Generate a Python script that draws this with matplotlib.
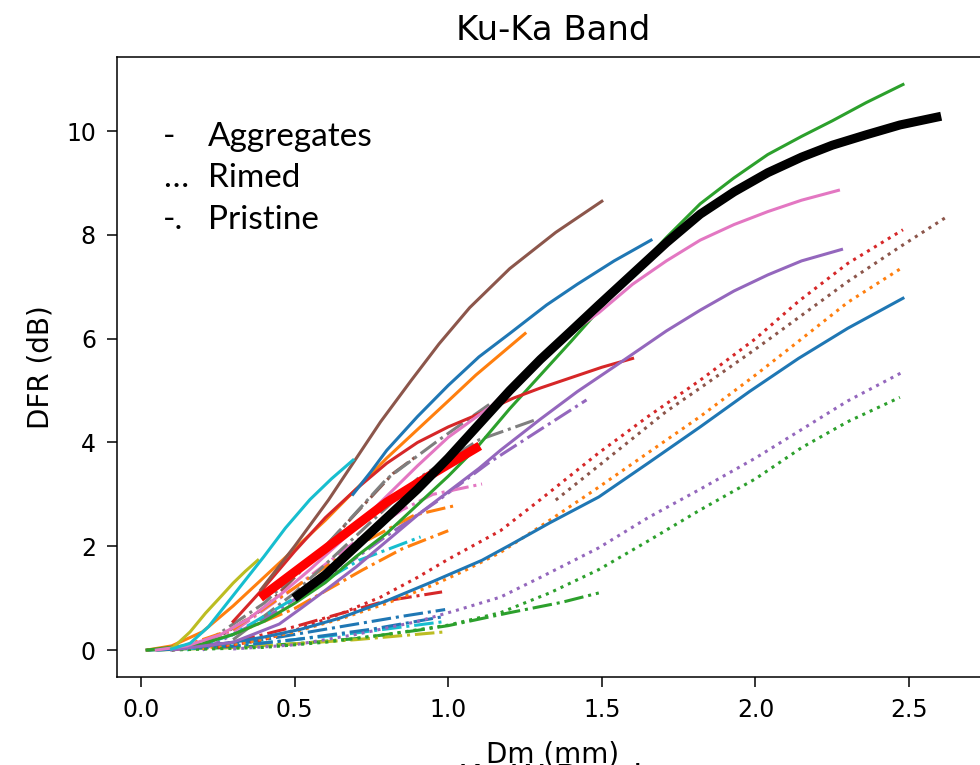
import matplotlib
matplotlib.use('Agg')
import matplotlib.pyplot as plt

# Aggregates (solid)
agg_brown_x = [0.39, 0.5, 0.61, 0.69, 0.78, 0.88, 0.97, 1.07, 1.2, 1.35, 1.5]
agg_brown_y = [1.16, 2.0, 2.89, 3.6, 4.4, 5.2, 5.9, 6.6, 7.35, 8.05, 8.65]
agg_cyan_x = [0.1, 0.16, 0.22, 0.3, 0.4, 0.47, 0.55, 0.62, 0.69]
agg_cyan_y = [0.02, 0.13, 0.45, 1.05, 1.8, 2.35, 2.9, 3.3, 3.66]
agg_olive_x = [0.1, 0.12, 0.16, 0.21, 0.26, 0.3, 0.34, 0.38]
agg_olive_y = [0.03, 0.13, 0.35, 0.71, 1.03, 1.29, 1.52, 1.73]
agg_blue1_x = [0.69, 0.75, 0.8, 0.9, 1.0, 1.1, 1.2, 1.32, 1.42, 1.54, 1.66]
agg_blue1_y = [3.0, 3.45, 3.85, 4.5, 5.1, 5.65, 6.1, 6.65, 7.05, 7.5, 7.9]
agg_orange_x = [0.02, 0.1, 0.2, 0.3, 0.4, 0.5, 0.6, 0.7, 0.8, 0.9, 1.0, 1.09, 1.17, 1.25]
agg_orange_y = [0.0, 0.08, 0.35, 0.85, 1.4, 1.95, 2.5, 3.1, 3.7, 4.25, 4.8, 5.3, 5.7, 6.1]
agg_red_x = [0.3, 0.4, 0.5, 0.6, 0.7, 0.8, 0.9, 1.0, 1.1, 1.21, 1.3, 1.4, 1.5, 1.6]
agg_red_y = [0.55, 1.2, 1.9, 2.55, 3.1, 3.6, 4.0, 4.3, 4.55, 4.85, 5.05, 5.25, 5.45, 5.62]
agg_green_x = [0.02, 0.2, 0.3, 0.4, 0.5, 0.6, 0.7, 0.8, 0.9, 1.0, 1.1, 1.2, 1.3, 1.4, 1.49,
               1.6, 1.71, 1.82, 1.93, 2.04, 2.15, 2.25, 2.36, 2.48]
agg_green_y = [0.0, 0.12, 0.3, 0.55, 0.9, 1.3, 1.8, 2.25, 2.8, 3.35, 3.95, 4.65, 5.3, 5.95, 6.55,
               7.25, 7.95, 8.6, 9.1, 9.55, 9.9, 10.2, 10.55, 10.9]
agg_pink_x = [0.05, 0.15, 0.26, 0.35, 0.45, 0.55, 0.67, 0.78, 0.9, 1.0, 1.14, 1.25, 1.35, 1.49,
              1.6, 1.71, 1.82, 1.93, 2.04, 2.15, 2.27]
agg_pink_y = [0.0, 0.08, 0.3, 0.6, 1.05, 1.55, 2.2, 2.85, 3.55, 4.1, 4.7, 5.35, 5.9, 6.5,
              7.05, 7.5, 7.9, 8.2, 8.45, 8.67, 8.86]
agg_purple_x = [0.1, 0.3, 0.45, 0.52, 0.6, 0.7, 0.8, 0.9, 1.0, 1.1, 1.17, 1.3, 1.42, 1.55,
                1.71, 1.82, 1.93, 2.04, 2.15, 2.28]
agg_purple_y = [0.0, 0.15, 0.5, 0.8, 1.15, 1.6, 2.1, 2.6, 3.05, 3.5, 3.85, 4.45, 4.98, 5.5,
                6.15, 6.55, 6.92, 7.23, 7.5, 7.72]
agg_blue2_x = [0.02, 0.2, 0.3, 0.4, 0.52, 0.65, 0.8, 0.95, 1.11, 1.2, 1.33, 1.49, 1.65, 1.82,
               1.98, 2.14, 2.3, 2.48]
agg_blue2_y = [0.0, 0.07, 0.15, 0.25, 0.4, 0.62, 0.95, 1.32, 1.73, 2.02, 2.45, 2.95, 3.6, 4.3,
               4.98, 5.62, 6.2, 6.78]

# Rimed (dotted)
rim_red_x = [0.25, 0.4, 0.52, 0.65, 0.78, 0.9, 1.0, 1.17, 1.3, 1.49, 1.65, 1.82, 2.0, 2.14, 2.3, 2.48]
rim_red_y = [0.05, 0.2, 0.42, 0.7, 1.02, 1.4, 1.75, 2.3, 2.9, 3.8, 4.5, 5.2, 6.0, 6.72, 7.45, 8.1]
rim_brown_x = [1.35, 1.5, 1.71, 1.82, 2.0, 2.15, 2.3, 2.47, 2.62]
rim_brown_y = [2.89, 3.6, 4.6, 5.05, 5.8, 6.45, 7.1, 7.77, 8.34]
rim_orange_x = [0.2, 0.35, 0.5, 0.65, 0.8, 0.95, 1.05, 1.17, 1.33, 1.49, 1.65, 1.82, 2.0, 2.14, 2.3, 2.48]
rim_orange_y = [0.03, 0.15, 0.35, 0.6, 0.9, 1.25, 1.52, 1.88, 2.5, 3.14, 3.8, 4.5, 5.3, 5.95, 6.7, 7.38]
rim_purple_x = [0.3, 0.5, 0.7, 0.9, 1.03, 1.17, 1.3, 1.49, 1.65, 1.82, 2.0, 2.15, 2.3, 2.48]
rim_purple_y = [0.02, 0.1, 0.3, 0.55, 0.77, 1.02, 1.4, 1.97, 2.55, 3.1, 3.7, 4.25, 4.8, 5.36]
rim_green_x = [0.1, 0.4, 0.6, 0.8, 1.0, 1.17, 1.33, 1.49, 1.65, 1.82, 2.0, 2.15, 2.3, 2.47]
rim_green_y = [0.0, 0.05, 0.15, 0.3, 0.48, 0.72, 1.1, 1.55, 2.1, 2.7, 3.3, 3.9, 4.4, 4.87]

# Pristine (dash-dot)
pri_blue1_x = [0.02, 0.3, 0.5, 0.7, 0.85, 0.99]
pri_blue1_y = [0.0, 0.1, 0.3, 0.5, 0.65, 0.78]
pri_blue2_x = [0.05, 0.3, 0.5, 0.75, 0.99]
pri_blue2_y = [0.0, 0.07, 0.2, 0.4, 0.65]
pri_orange1_x = [0.1, 0.3, 0.5, 0.72, 0.85, 1.0]
pri_orange1_y = [0.0, 0.3, 0.8, 1.54, 1.95, 2.3]
pri_orange2_x = [0.1, 0.3, 0.5, 0.7, 0.89, 1.02]
pri_orange2_y = [0.0, 0.4, 1.2, 2.0, 2.6, 2.78]
pri_green_x = [0.02, 0.3, 0.5, 0.7, 0.9, 1.0, 1.2, 1.37, 1.49]
pri_green_y = [0.0, 0.05, 0.12, 0.22, 0.38, 0.47, 0.72, 0.92, 1.1]
pri_red_x = [0.1, 0.3, 0.5, 0.63, 0.8, 0.98]
pri_red_y = [0.0, 0.15, 0.45, 0.67, 0.95, 1.12]
pri_purple_x = [0.2, 0.4, 0.6, 0.8, 0.96, 1.13, 1.3, 1.45]
pri_purple_y = [0.0, 0.6, 1.35, 2.2, 2.85, 3.6, 4.25, 4.82]
pri_brown_x = [0.2, 0.4, 0.6, 0.82, 0.9]
pri_brown_y = [0.05, 0.8, 2.0, 3.4, 3.75]
pri_pink_x = [0.1, 0.3, 0.5, 0.7, 0.85, 0.95, 1.11]
pri_pink_y = [0.0, 0.35, 1.2, 2.1, 2.7, 3.0, 3.2]
pri_gray1_x = [0.2, 0.4, 0.6, 0.8, 0.97, 1.14]
pri_gray1_y = [0.1, 0.9, 2.0, 3.3, 4.05, 4.76]
pri_gray2_x = [0.3, 0.5, 0.7, 0.9, 1.1, 1.29]
pri_gray2_y = [0.2, 1.1, 2.2, 3.3, 4.05, 4.45]
pri_olive_x = [0.05, 0.3, 0.5, 0.7, 0.99]
pri_olive_y = [0.0, 0.05, 0.12, 0.2, 0.35]
pri_cyan1_x = [0.05, 0.3, 0.5, 0.7, 0.99]
pri_cyan1_y = [0.0, 0.08, 0.2, 0.33, 0.55]
pri_cyan2_x = [0.15, 0.3, 0.5, 0.71, 0.91]
pri_cyan2_y = [0.0, 0.3, 1.0, 1.73, 2.18]

# reference curves
fit_red_x = [0.40, 0.6, 0.8, 0.95, 1.09]
fit_red_y = [1.06, 1.95, 2.85, 3.4, 3.89]
fit_black_x = [0.51, 0.6, 0.7, 0.8, 0.9, 1.0, 1.1, 1.2, 1.3, 1.4, 1.49, 1.6, 1.71, 1.82, 1.93,
               2.04, 2.15, 2.25, 2.36, 2.47, 2.59]
fit_black_y = [1.05, 1.45, 2.0, 2.55, 3.1, 3.7, 4.35, 5.0, 5.6, 6.15, 6.65, 7.25, 7.85, 8.4, 8.83,
               9.2, 9.5, 9.73, 9.93, 10.12, 10.27]

fig = plt.figure(figsize=(9.8, 7.65), dpi=100)
ax = fig.add_axes([117/980, 88/765, 872/980, 620/765])
lw = 2.2

ax.plot(pri_blue1_x, pri_blue1_y, '-.', color='tab:blue', lw=lw)
ax.plot(pri_orange1_x, pri_orange1_y, '-.', color='tab:orange', lw=lw)
ax.plot(pri_green_x, pri_green_y, '-.', color='tab:green', lw=lw)
ax.plot(pri_red_x, pri_red_y, '-.', color='tab:red', lw=lw)
ax.plot(pri_purple_x, pri_purple_y, '-.', color='tab:purple', lw=lw)
ax.plot(pri_brown_x, pri_brown_y, '-.', color='tab:brown', lw=lw)
ax.plot(pri_pink_x, pri_pink_y, '-.', color='tab:pink', lw=lw)
ax.plot(pri_gray1_x, pri_gray1_y, '-.', color='tab:gray', lw=lw)
ax.plot(pri_olive_x, pri_olive_y, '-.', color='tab:olive', lw=lw)
ax.plot(pri_cyan1_x, pri_cyan1_y, '-.', color='tab:cyan', lw=lw)
ax.plot(pri_blue2_x, pri_blue2_y, '-.', color='tab:blue', lw=lw)
ax.plot(pri_orange2_x, pri_orange2_y, '-.', color='tab:orange', lw=lw)
ax.plot(pri_gray2_x, pri_gray2_y, '-.', color='tab:gray', lw=lw)
ax.plot(pri_cyan2_x, pri_cyan2_y, '-.', color='tab:cyan', lw=lw)

ax.plot(rim_red_x, rim_red_y, ':', color='tab:red', lw=lw)
ax.plot(rim_brown_x, rim_brown_y, ':', color='tab:brown', lw=lw)
ax.plot(rim_orange_x, rim_orange_y, ':', color='tab:orange', lw=lw)
ax.plot(rim_purple_x, rim_purple_y, ':', color='tab:purple', lw=lw)
ax.plot(rim_green_x, rim_green_y, ':', color='tab:green', lw=lw)

ax.plot(agg_blue2_x, agg_blue2_y, '-', color='tab:blue', lw=lw)
ax.plot(agg_orange_x, agg_orange_y, '-', color='tab:orange', lw=lw)
ax.plot(agg_green_x, agg_green_y, '-', color='tab:green', lw=lw)
ax.plot(agg_red_x, agg_red_y, '-', color='tab:red', lw=lw)
ax.plot(agg_purple_x, agg_purple_y, '-', color='tab:purple', lw=lw)
ax.plot(agg_brown_x, agg_brown_y, '-', color='tab:brown', lw=lw)
ax.plot(agg_pink_x, agg_pink_y, '-', color='tab:pink', lw=lw)
ax.plot(agg_olive_x, agg_olive_y, '-', color='tab:olive', lw=lw)
ax.plot(agg_cyan_x, agg_cyan_y, '-', color='tab:cyan', lw=lw)
ax.plot(agg_blue1_x, agg_blue1_y, '-', color='tab:blue', lw=lw)

ax.plot(fit_red_x, fit_red_y, '-', color='red', lw=6.5)
ax.plot(fit_black_x, fit_black_y, '-', color='black', lw=6.5)

ax.set_xlim(-0.078, 2.76)
ax.set_ylim(-0.52, 11.43)
ax.set_xticks([0.0, 0.5, 1.0, 1.5, 2.0, 2.5])
ax.set_yticks([0, 2, 4, 6, 8, 10])
ax.tick_params(labelsize=17, length=7.2, width=1.1, pad=8)
for s in ax.spines.values():
    s.set_linewidth(1.1)

ax.set_title('Ku-Ka Band', fontsize=24.4, pad=12)
ax.set_xlabel('Dm (mm)', fontsize=20, labelpad=13)
ax.set_ylabel('DFR (dB)', fontsize=20, labelpad=8)

fig.text(550/980, 2/765, 'Ka-W Band', fontsize=24.4, ha='center', va='top')

# handwritten legend
leg_font = ['Lato', 'DejaVu Sans']
for sym, word, ypx in [('-', 'Aggregates', 137), ('…', 'Rimed', 178), ('-.', 'Pristine', 220)]:
    fig.text(163/980, 1 - ypx/765, sym, fontsize=24, family=leg_font, va='center')
    fig.text(208/980, 1 - ypx/765, word, fontsize=24, family=leg_font, va='center')

fig.savefig('out.png', dpi=100)
